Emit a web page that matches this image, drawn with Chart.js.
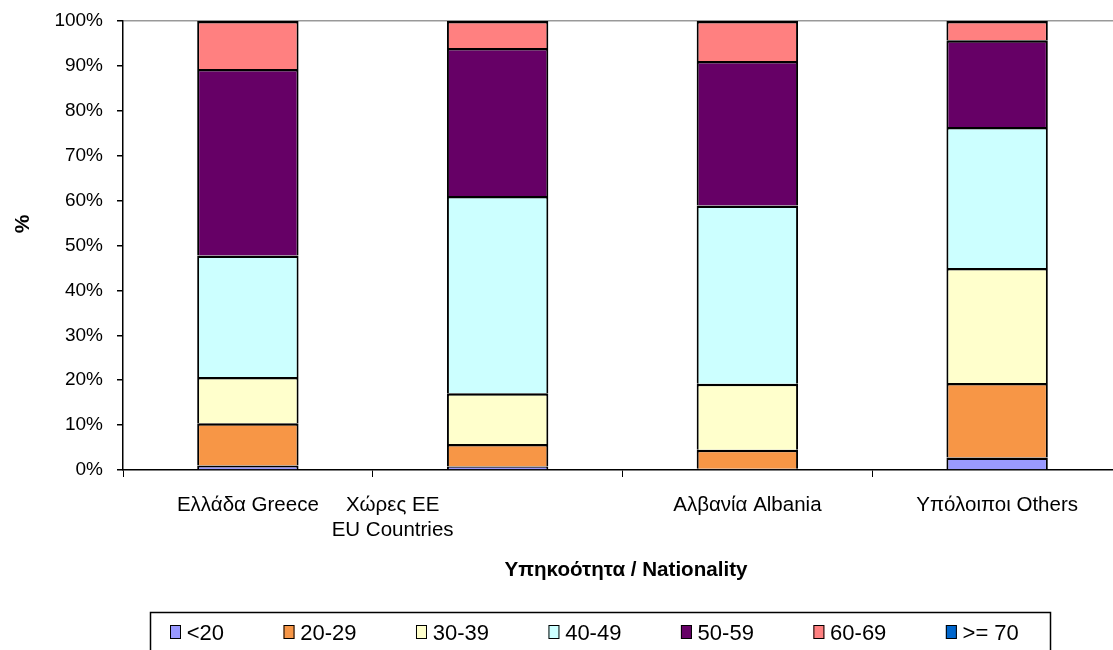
<!DOCTYPE html>
<html>
<head>
<meta charset="utf-8">
<script src="https://cdn.jsdelivr.net/npm/chart.js@4.4.1/dist/chart.umd.min.js"></script>
<style>
  html, body { margin: 0; padding: 0; background: #fff; overflow: hidden; }
  #wrap { width: 1122px; height: 650px; }
</style>
</head>
<body>
<div id="wrap"><canvas id="chart" width="1122" height="650"></canvas></div>
<script>
// categories (multi-line labels), Excel drew the 2nd one off-centre
const categories = [['Ελλάδα Greece'], ['Χώρες ΕΕ', 'EU Countries'], ['Αλβανία Albania'], ['Υπόλοιποι Others']];
const labelShift = [0, -105, 0, 0];

const ageGroups = ['<20', '20-29', '30-39', '40-49', '50-59', '60-69', '>= 70'];
// % of each nationality
const under20   = [1.0, 0.8, 0.3, 2.8];
const age20to29 = [9.4, 5.0, 4.2, 16.6];
const age30to39 = [10.3, 11.3, 14.7, 25.6];
const age40to49 = [27.1, 43.9, 39.7, 31.4];
const age50to59 = [41.5, 33.0, 32.2, 19.3];
const age60to69 = [10.7, 6.0, 8.9, 4.3];
const over70    = [0, 0, 0, 0];
const yTicks = [0, 10, 20, 30, 40, 50, 60, 70, 80, 90, 100];

const seriesData = [under20, age20to29, age30to39, age40to49, age50to59, age60to69, over70];
const colors = ['#9999FF', '#F79646', '#FFFFCC', '#CCFFFF', '#660066', '#FF8080', '#0066CC'];

const FONT = '"Liberation Sans", Arial, sans-serif';

// x labels, titles and the boxed legend
const extras = {
  id: 'extras',
  afterDraw(chart) {
    const ctx = chart.ctx;
    const xs = chart.scales.x;
    ctx.save();
    ctx.fillStyle = '#000';
    ctx.textAlign = 'center';
    ctx.textBaseline = 'alphabetic';
    ctx.font = '20.5px ' + FONT;
    categories.forEach((lines, i) => {
      const cx = xs.getPixelForValue(i) + labelShift[i];
      lines.forEach((t, j) => ctx.fillText(t, cx, 511 + j * 25));
    });

    ctx.font = 'bold 20.6px ' + FONT;
    ctx.fillText('Υπηκοότητα / Nationality', 626, 576);

    // y title
    ctx.save();
    ctx.translate(23, 224);
    ctx.rotate(-Math.PI / 2);
    ctx.textBaseline = 'middle';
    ctx.font = 'bold 21px ' + FONT;
    ctx.fillText('%', 0, 0);
    ctx.restore();

    // legend
    ctx.lineWidth = 1.5;
    ctx.strokeStyle = '#000';
    ctx.strokeRect(150.5, 612.5, 900, 60);
    ctx.font = '22px ' + FONT;
    ctx.textAlign = 'left';
    ctx.textBaseline = 'middle';
    ctx.lineWidth = 1;
    let lx = 170;
    ageGroups.forEach((name, i) => {
      ctx.fillStyle = colors[i];
      ctx.fillRect(lx, 625, 11, 14);
      ctx.strokeRect(lx + 0.5, 625.5, 10, 13);
      ctx.fillStyle = '#000';
      ctx.fillText(name, lx + 16.7, 634);
      lx += 16.7 + ctx.measureText(name).width + 59.5;
    });
    ctx.restore();
  }
};

new Chart(document.getElementById('chart'), {
  type: 'bar',
  data: {
    labels: categories,
    datasets: ageGroups.map((name, i) => ({
      label: name,
      data: seriesData[i],
      backgroundColor: colors[i],
      borderColor: '#000',
      borderWidth: { top: 2.5, left: 2, right: 2, bottom: 0 },
      borderSkipped: false,
      categoryPercentage: 1,
      barPercentage: 0.406
    }))
  },
  options: {
    responsive: false,
    devicePixelRatio: 1,
    animation: false,
    layout: { padding: { top: 21, right: 0, bottom: 0, left: 0 } },
    plugins: { legend: { display: false }, tooltip: { enabled: false } },
    scales: {
      x: {
        stacked: true,
        afterFit: (s) => { s.height = 180; },
        ticks: { display: false },
        grid: {
          drawOnChartArea: false,
          drawTicks: true,
          tickLength: 7,
          tickColor: '#000',
          offset: true
        },
        border: { display: true, color: '#000', width: 1.5 }
      },
      y: {
        stacked: true,
        min: 0,
        max: 100,
        afterFit: (s) => { s.width = 123; s.paddingTop = 0; s.paddingBottom = 0; },
        afterBuildTicks: (s) => { s.ticks = yTicks.map(v => ({ value: v })); },
        ticks: {
          padding: 14,
          color: '#000',
          font: { family: FONT, size: 19 },
          callback: (v) => v + '%'
        },
        grid: {
          color: (c) => (c.tick && c.tick.value === 100 ? '#999999' : 'rgba(0,0,0,0)'),
          lineWidth: 1.5,
          tickColor: '#000',
          tickLength: 6
        },
        border: { display: true, color: '#000', width: 1.5 }
      }
    }
  },
  plugins: [extras]
});
</script>
</body>
</html>
